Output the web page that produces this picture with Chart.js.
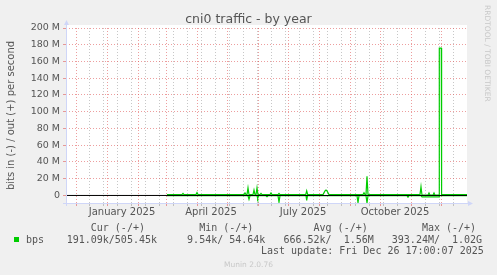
<!DOCTYPE html>
<html>
<head>
<meta charset="utf-8">
<script src="https://cdn.jsdelivr.net/npm/chart.js@4.4.1/dist/chart.umd.min.js"></script>
<style>
  body { margin: 0; background: #f0f0f0; }
  #wrap { position: relative; width: 497px; height: 275px; overflow: hidden; }
  canvas { position: absolute; left: 0; top: 0; }
  .t { position: absolute; white-space: pre; color: #555; }
  .mono { font: 10px "DejaVu Sans Mono", monospace; line-height: 12px; }
  .faint { font: 7.5px "DejaVu Sans", sans-serif; line-height: 9px; color: #c8c8c8; }
</style>
</head>
<body>
<div id="wrap">
  <canvas id="myChart" width="497" height="275"></canvas>
  <div class="t mono" style="left:66.7px; top:222px;">    Cur (-/+)         Min (-/+)          Avg (-/+)         Max (-/+)</div>
  <div style="position:absolute; left:14px; top:237px; width:5px; height:5px; background:#00cc00;"></div>
  <div class="t mono" style="left:26px; top:233.5px;">bps</div>
  <div class="t mono" style="left:66.7px; top:233.5px;">191.09k/505.45k     9.54k/ 54.64k   666.52k/  1.56M   393.24M/  1.02G</div>
  <div class="t mono" style="left:261px; top:245px;">Last update: Fri Dec 26 17:00:07 2025</div>
  <div class="t faint" style="left:0; width:497px; text-align:center; top:259.5px;">Munin 2.0.76</div>
  <div class="t faint" style="left:483px; top:5px; writing-mode:vertical-rl;">RRDTOOL / TOBI OETIKER</div>
</div>
<script>
// x = days since 21 Nov 2024 (1 px per day), y = Mbit/s
const zeroDay = [0, 401];
const zeroVal = [0, 0];

// out (+)
const outDay = [101, 116, 117, 118, 130, 131, 132, 178, 179, 180, 181, 182, 183,
    187, 188, 189, 190, 191, 192, 194, 195, 196, 204, 205, 206, 212, 213, 214,
    239.7, 240.7, 241.7, 257, 259, 260, 261, 263, 297, 298, 299, 300, 301, 302,
    354, 355, 356, 362, 363, 364, 367, 368, 369, 373, 373.3, 375.3, 375.6, 401];
const outVal = [1, 1, 2.5, 1, 1, 3.5, 1, 1, 3, 1, 1, 9, 1,
    1, 6.5, 1, 1, 9, 1, 1, 2.5, 1, 1, 3, 1, 1, 2.5, 1,
    1, 5.5, 1, 1, 5.5, 6.5, 5.5, 1, 1, 3.3, 1, 1, 23, 1,
    1, 10.5, 0.3, 0.3, 3, 0.3, 0.3, 3, 0.3, 0.3, 176, 176, 1, 1];

// in (-)
const inDay = [101, 182, 183, 184, 191, 191.7, 192.5, 200, 201, 202, 212, 213, 214,
    240, 240.7, 241.5, 291, 292, 293, 300, 301, 302, 341, 342, 343,
    355, 356, 373, 373.3, 401];
const inVal = [-0.3, -0.3, -4.5, -0.3, -0.3, -3.5, -0.3, -0.3, -1.5, -0.3, -0.3, -8, -0.3,
    -0.3, -6, -0.3, -0.3, -8.6, -0.3, -0.3, -9, -0.3, -0.3, -2, -0.3,
    -0.3, -1.8, -1.8, -0.3, -0.3];

// axis ticks
const yTicks = [0, 10, 20, 30, 40, 50, 60, 70, 80, 90, 100, 110, 120, 130, 140, 150, 160, 170, 180, 190, 200];
const monthDays = [10, 41, 72, 100, 131, 161, 192, 222, 253, 284, 314, 345, 375];
const weekDays = [23, 37, 51, 65, 79, 93, 107, 121, 135, 149, 163, 177, 191, 205, 219, 233, 247, 261, 275, 289, 303, 317, 331, 359, 373, 387];
const labelDays = [56, 145, 237, 329];
const labelText = ['January 2025', 'April 2025', 'July 2025', 'October 2025'];

const RED = 'rgba(222,79,79,0.55)';
const GRAY = 'rgba(143,143,143,0.5)';
const NONE = 'rgba(0,0,0,0)';

function pts(days, vals) {
    return days.map((d, i) => ({ x: d, y: vals[i] }));
}
function xGridColor(c) {
    const v = c.tick ? c.tick.value : null;
    if (monthDays.includes(v)) return RED;
    if (weekDays.includes(v)) return GRAY;
    return NONE;
}
function yGridColor(c) {
    return c.tick && c.tick.value % 20 === 0 ? RED : GRAY;
}

const frame = {
    id: 'frame',
    beforeDraw(chart) {
        const { ctx, chartArea: a } = chart;
        ctx.save();
        ctx.fillStyle = '#fff';
        ctx.fillRect(a.left, a.top - 3, a.right - a.left, a.bottom - a.top + 3);
        ctx.restore();
    },
    afterDraw(chart) {
        const { ctx, chartArea: a } = chart;
        ctx.save();
        ctx.strokeStyle = '#cfd6f8';
        ctx.fillStyle = '#cfd6f8';
        ctx.lineWidth = 1;
        ctx.beginPath();
        ctx.moveTo(a.left + 0.5, a.bottom + 3);
        ctx.lineTo(a.left + 0.5, a.top - 4);
        ctx.moveTo(a.left - 3, a.bottom + 0.5);
        ctx.lineTo(a.right + 2, a.bottom + 0.5);
        ctx.stroke();
        ctx.beginPath();
        ctx.moveTo(a.left - 2, a.top - 3);
        ctx.lineTo(a.left + 3, a.top - 3);
        ctx.lineTo(a.left + 0.5, a.top - 8);
        ctx.fill();
        ctx.beginPath();
        ctx.moveTo(a.right + 1, a.bottom - 2);
        ctx.lineTo(a.right + 1, a.bottom + 3);
        ctx.lineTo(a.right + 6, a.bottom + 0.5);
        ctx.fill();
        ctx.restore();
    }
};

Chart.defaults.font.family = 'DejaVu Sans';

document.addEventListener('DOMContentLoaded', function() {
    const ctx = document.getElementById('myChart').getContext('2d');
    new Chart(ctx, {
        type: 'line',
        data: {
            datasets: [
                { label: 'zero', data: pts(zeroDay, zeroVal), borderColor: '#000', borderWidth: 1 },
                { label: 'out', data: pts(outDay, outVal), borderColor: '#00cc00', borderWidth: 1.2 },
                { label: 'in', data: pts(inDay, inVal), borderColor: '#00cc00', borderWidth: 1.2 }
            ]
        },
        options: {
            responsive: false,
            animation: false,
            elements: { point: { radius: 0 }, line: { tension: 0 } },
            layout: { padding: 0 },
            plugins: {
                legend: { display: false },
                tooltip: { enabled: false },
                title: {
                    display: true,
                    text: 'cni0 traffic - by year',
                    color: '#555',
                    font: { family: 'DejaVu Sans', size: 12.5, weight: 'normal' },
                    padding: { top: 12, bottom: 1 }
                }
            },
            scales: {
                x: {
                    type: 'linear',
                    min: 0,
                    max: 401,
                    afterBuildTicks: s => {
                        s.ticks = monthDays.concat(weekDays, labelDays)
                            .sort((a, b) => a - b)
                            .map(v => ({ value: v }));
                    },
                    afterFit: s => { s.height = 72; },
                    ticks: {
                        autoSkip: false,
                        maxRotation: 0,
                        padding: 0,
                        color: '#555',
                        font: { size: 10 },
                        callback: v => {
                            const i = labelDays.indexOf(v);
                            return i >= 0 ? labelText[i] : '';
                        }
                    },
                    grid: { color: xGridColor, tickColor: xGridColor, tickLength: 3 },
                    border: { display: false, dash: [1, 2] }
                },
                y: {
                    min: -9,
                    max: 200,
                    afterBuildTicks: s => { s.ticks = yTicks.map(v => ({ value: v })); },
                    afterFit: s => { s.width = 66; },
                    ticks: {
                        padding: 3,
                        color: '#555',
                        font: { size: 9.5 },
                        callback: v => v % 20 !== 0 ? '' : (v === 0 ? '0' : v + ' M')
                    },
                    grid: { color: yGridColor, tickColor: yGridColor, tickLength: 3 },
                    border: { display: false, dash: [1, 2] },
                    title: {
                        display: true,
                        text: 'bits in (-) / out (+) per second',
                        color: '#555',
                        font: { size: 10 },
                        padding: { top: 5, bottom: 0 }
                    }
                },
                y2: {
                    position: 'right',
                    grid: { display: false },
                    border: { display: false },
                    ticks: { display: false },
                    afterFit: s => { s.width = 30; }
                }
            }
        },
        plugins: [frame]
    });
});
</script>
</body>
</html>
